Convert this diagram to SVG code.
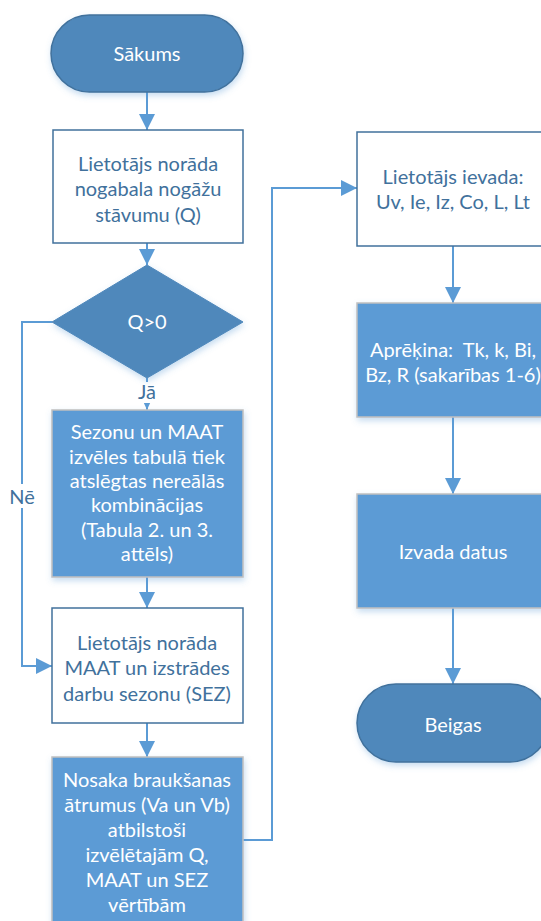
<svg xmlns="http://www.w3.org/2000/svg" width="541" height="921" viewBox="0 0 541 921">
<style>
text{font-family:Lato,"Open Sans","Liberation Sans",sans-serif;font-size:20px;text-anchor:middle}
.term{fill:#4F88BB;stroke:#41719C;stroke-width:1.5}
.dec{fill:#4F88BB;stroke:#4F88BB;stroke-width:1}
.wbox{fill:#FFFFFF;stroke:#41719C;stroke-width:1.5}
.bbox{fill:#5B9BD5;stroke:#C0C0C0;stroke-width:1.5}
.wt{fill:#FFFFFF}
.bt{fill:#41719C}
.conn{fill:none;stroke:#5B9BD5;stroke-width:2}
.lbl{fill:#41719C}
</style>
<defs>
<marker id="arr" markerUnits="userSpaceOnUse" markerWidth="18" markerHeight="18" viewBox="0 0 18 18" refX="16" refY="9" orient="auto">
<path d="M0,1 L16,9 L0,17 Z" fill="#5B9BD5"/>
</marker>
<marker id="arrs" markerUnits="userSpaceOnUse" markerWidth="10" markerHeight="10" viewBox="0 0 10 10" refX="9" refY="5" orient="auto">
<path d="M0,1 L9,5 L0,9 Z" fill="#5B9BD5"/>
</marker>
<filter id="sh" x="-10%" y="-10%" width="125%" height="130%">
<feGaussianBlur in="SourceAlpha" stdDeviation="3"/>
<feOffset dx="1" dy="3" result="b"/>
<feFlood flood-color="#5B9BD5" flood-opacity="0.35"/>
<feComposite in2="b" operator="in"/>
<feMerge><feMergeNode/><feMergeNode in="SourceGraphic"/></feMerge>
</filter>
</defs>
<g id="connectors">
<line class="conn" x1="147" y1="92" x2="147" y2="130" marker-end="url(#arr)"/>
<line class="conn" x1="147" y1="243" x2="147" y2="265" marker-end="url(#arr)"/>
<line class="conn" x1="147" y1="378" x2="147" y2="410" marker-end="url(#arrs)"/>
<polyline class="conn" points="52,322 22,322 22,666 52,666" marker-end="url(#arr)"/>
<line class="conn" x1="147" y1="577" x2="147" y2="608" marker-end="url(#arr)"/>
<line class="conn" x1="147" y1="723" x2="147" y2="757" marker-end="url(#arr)"/>
<polyline class="conn" points="243,840 272,840 272,188 357,188" marker-end="url(#arr)"/>
<line class="conn" x1="453" y1="246" x2="453" y2="303" marker-end="url(#arr)"/>
<line class="conn" x1="453" y1="417" x2="453" y2="494" marker-end="url(#arr)"/>
<line class="conn" x1="453" y1="608" x2="453" y2="684" marker-end="url(#arr)"/>
<rect x="135" y="382" width="24" height="21" fill="#FFFFFF"/>
<text class="lbl" x="147" y="399">Jā</text>
<rect x="9" y="484" width="26" height="24" fill="#FFFFFF"/>
<text class="lbl" x="22" y="504">Nē</text>
</g>
<g id="start">
<rect class="term" x="51" y="15" width="192" height="77" rx="38.5" filter="url(#sh)"/>
<text class="wt" x="147" y="61">Sākums</text>
</g>
<g id="input-q">
<rect class="wbox" x="53" y="130" width="190" height="113"/>
<text class="bt" x="148" y="171">Lietotājs norāda</text>
<text class="bt" x="148" y="196">nogabala nogāžu</text>
<text class="bt" x="148" y="222">stāvumu (Q)</text>
</g>
<g id="decision-q">
<polygon class="dec" points="147,265 243,322 147,378 52,322" filter="url(#sh)"/>
<text class="wt" x="147" y="329">Q&gt;0</text>
</g>
<g id="exclude">
<rect class="bbox" x="52" y="410" width="191" height="167" filter="url(#sh)"/>
<text class="wt" x="147" y="439">Sezonu un MAAT</text>
<text class="wt" x="147" y="464">izvēles tabulā tiek</text>
<text class="wt" x="147" y="488">atslēgtas nereālās</text>
<text class="wt" x="147" y="512">kombinācijas</text>
<text class="wt" x="147" y="537">(Tabula 2. un 3.</text>
<text class="wt" x="147" y="561">attēls)</text>
</g>
<g id="input-sez">
<rect class="wbox" x="52" y="608" width="191" height="115"/>
<text class="bt" x="147" y="650">Lietotājs norāda</text>
<text class="bt" x="147" y="675">MAAT un izstrādes</text>
<text class="bt" x="147" y="701">darbu sezonu (SEZ)</text>
</g>
<g id="speeds">
<rect class="bbox" x="52" y="757" width="191" height="175" filter="url(#sh)"/>
<text class="wt" x="147" y="787">Nosaka braukšanas</text>
<text class="wt" x="147" y="812">ātrumus (Va un Vb)</text>
<text class="wt" x="147" y="837">atbilstoši</text>
<text class="wt" x="147" y="862">izvēlētajām Q,</text>
<text class="wt" x="147" y="887">MAAT un SEZ</text>
<text class="wt" x="147" y="912">vērtībām</text>
</g>
<g id="input-params">
<rect class="wbox" x="357" y="132" width="192" height="114"/>
<text class="bt" x="453" y="184">Lietotājs ievada:</text>
<text class="bt" x="453" y="209">Uv, Ie, Iz, Co, L, Lt</text>
</g>
<g id="compute">
<rect class="bbox" x="357" y="303" width="192" height="114" filter="url(#sh)"/>
<text class="wt" x="453" y="357">Aprēķina:&#160; Tk, k, Bi,</text>
<text class="wt" x="453" y="382">Bz, R (sakarības 1-6)</text>
</g>
<g id="output">
<rect class="bbox" x="357" y="494" width="192" height="114" filter="url(#sh)"/>
<text class="wt" x="453" y="559">Izvada datus</text>
</g>
<g id="end">
<rect class="term" x="357" y="684" width="192" height="78" rx="39" filter="url(#sh)"/>
<text class="wt" x="453" y="732">Beigas</text>
</g>
</svg>
